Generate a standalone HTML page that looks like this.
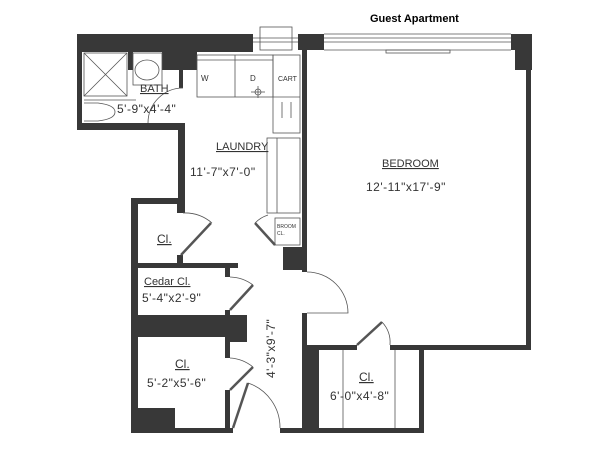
<!DOCTYPE html>
<html><head><meta charset="utf-8"><style>
html,body{margin:0;padding:0;background:#fff;}
svg{display:block;}
text{font-family:"Liberation Sans",sans-serif;fill:#333;}
</style></head><body>
<svg width="600" height="463" viewBox="0 0 600 463" xmlns="http://www.w3.org/2000/svg">
<rect width="600" height="463" fill="#fff"/>
<text x="370" y="22" font-size="11" font-weight="bold" style="fill:#000">Guest Apartment</text>
<g fill="#383838">
<!-- top-left wall -->
<rect x="77" y="34" width="176" height="18"/>
<rect x="128" y="52" width="5" height="18"/>
<rect x="162" y="52" width="35" height="18"/>
<rect x="179" y="70" width="4" height="18"/>
<rect x="77" y="34" width="5" height="96"/>
<rect x="77" y="123" width="108" height="7"/>
<rect x="178" y="123" width="7" height="90"/>
<rect x="131" y="198" width="52" height="6"/>
<rect x="131" y="198" width="7" height="235"/>
<!-- upper closet -->
<rect x="177" y="198" width="6" height="15"/>
<rect x="177" y="255" width="6" height="12"/>
<rect x="131" y="263" width="107" height="5"/>
<!-- cedar -->
<rect x="225" y="263" width="5" height="14"/>
<rect x="225" y="310" width="5" height="6"/>
<rect x="131" y="315" width="116" height="22"/>
<rect x="225" y="315" width="22" height="27"/>
<rect x="225" y="337" width="5" height="21"/>
<rect x="225" y="390" width="5" height="43"/>
<rect x="131" y="428" width="102" height="5"/>
<rect x="138" y="408" width="37" height="20"/>
<!-- bedroom -->
<rect x="298" y="34" width="26" height="16"/>
<rect x="511" y="34" width="21" height="16"/>
<rect x="515" y="50" width="17" height="20"/>
<rect x="526" y="50" width="5" height="300"/>
<rect x="302" y="50" width="5" height="222"/>
<rect x="283" y="247" width="24" height="23"/>
<rect x="302" y="313" width="5" height="120"/>
<rect x="302" y="345" width="17" height="88"/>
<rect x="302" y="345" width="55" height="5"/>
<rect x="390" y="345" width="141" height="5"/>
<rect x="419" y="345" width="5" height="88"/>
<rect x="280" y="428" width="144" height="5"/>
</g>
<g fill="none" stroke="#555" stroke-width="0.8">
<!-- windows -->
<rect x="260" y="27" width="32" height="23"/>
<line x1="253" y1="38" x2="298" y2="38"/><line x1="253" y1="42" x2="298" y2="42"/>
<line x1="324" y1="38" x2="511" y2="38"/><line x1="324" y1="42" x2="511" y2="42"/>
<line x1="324" y1="34" x2="511" y2="34"/><line x1="324" y1="50" x2="511" y2="50"/>
<rect x="386" y="50" width="64" height="3"/>
<!-- bath fixtures -->
<rect x="84" y="53" width="43" height="43"/>
<line x1="84" y1="53" x2="127" y2="96"/><line x1="127" y1="53" x2="84" y2="96"/>
<rect x="133" y="53" width="29" height="32"/>
<ellipse cx="147" cy="70" rx="12" ry="10"/>
<line x1="84" y1="100" x2="136" y2="100"/>
<path d="M84 103 L98 103 Q115 105 115 112 Q115 119 98 121 L84 121"/>
<path d="M148 123 A35 35 0 0 1 183 88"/>
<!-- washer/dryer -->
<rect x="197" y="55" width="76" height="42"/>
<line x1="197" y1="60" x2="273" y2="60"/>
<line x1="235" y1="55" x2="235" y2="97"/>
<rect x="273" y="55" width="27" height="78"/>
<line x1="273" y1="97" x2="300" y2="97"/>
<line x1="282" y1="102" x2="282" y2="118"/><line x1="291" y1="102" x2="291" y2="118"/>
<circle cx="258" cy="92" r="3"/>
<line x1="251" y1="92" x2="265" y2="92"/><line x1="258" y1="86" x2="258" y2="98"/>
<!-- counter -->
<rect x="267" y="138" width="33" height="75"/>
<line x1="277" y1="138" x2="277" y2="213"/>
<rect x="275" y="218" width="25" height="27"/>
<!-- doors -->
<path d="M183 213 A42 42 0 0 1 212 223"/>
<path d="M181 255 L211 223" stroke-width="2.5"/>
<path d="M268 215 A32 32 0 0 0 255 223"/>
<path d="M275 245 L255 223" stroke-width="2.5"/>
<path d="M230 277 A40 40 0 0 1 253 285"/>
<path d="M230 310 L253 285" stroke-width="2.5"/>
<path d="M230 358 A40 40 0 0 1 253 367"/>
<path d="M230 390 L253 367" stroke-width="2.5"/>
<path d="M248 383 A47 47 0 0 1 280 428"/>
<path d="M233 428 L248 383" stroke-width="2.5"/>
<path d="M307 272 A41 41 0 0 1 348 313 L307 313"/>
<path d="M382 322 A30 30 0 0 1 390 345"/>
<path d="M357 345 L382 322" stroke-width="2.5"/>
<!-- closet lines -->
<line x1="343" y1="350" x2="343" y2="428"/>
<line x1="395" y1="350" x2="395" y2="428"/>
</g>
<g font-size="12">
<text x="140" y="92" font-size="11" text-decoration="underline">BATH</text>
<text x="117" y="113" letter-spacing="0.5">5'-9"x4'-4"</text>
<text x="216" y="150" font-size="11" text-decoration="underline">LAUNDRY</text>
<text x="190" y="176" letter-spacing="0.5">11'-7"x7'-0"</text>
<text x="382" y="167" font-size="11" text-decoration="underline">BEDROOM</text>
<text x="366" y="191" letter-spacing="0.5">12'-11"x17'-9"</text>
<text x="157" y="243" text-decoration="underline">Cl.</text>
<text x="144" y="285" font-size="11" text-decoration="underline">Cedar Cl.</text>
<text x="142" y="302" letter-spacing="0.5">5'-4"x2'-9"</text>
<text x="175" y="368" text-decoration="underline">Cl.</text>
<text x="147" y="387" letter-spacing="0.5">5'-2"x5'-6"</text>
<text x="359" y="381" text-decoration="underline">Cl.</text>
<text x="330" y="400" letter-spacing="0.5">6'-0"x4'-8"</text>
<text transform="translate(275,378) rotate(-90)" letter-spacing="0.5">4'-3"x9'-7"</text>
<text x="201" y="81" font-size="8">W</text>
<text x="250" y="81" font-size="8">D</text>
<text x="278" y="81" font-size="7">CART</text>
<text x="277" y="228" font-size="5">BROOM</text>
<text x="277" y="235" font-size="5">CL.</text>
</g>
</svg>
</body></html>
